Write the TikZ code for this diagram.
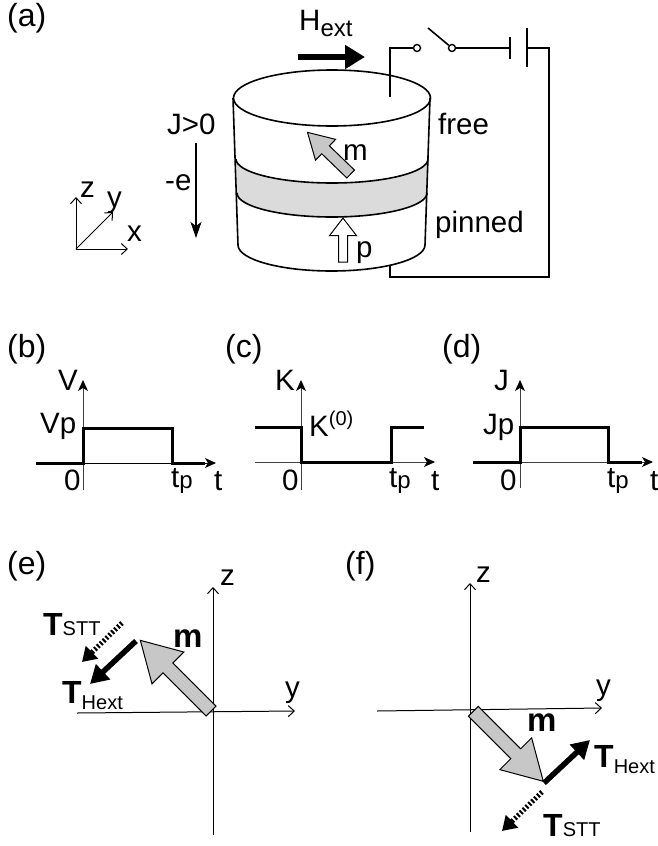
\documentclass[tikz,border=0pt]{standalone}
\usepackage{fontspec}
\setmainfont{Liberation Sans}
\usetikzlibrary{arrows.meta,shapes.arrows}

\newcommand{\subtxt}[1]{{\fontsize{20}{20}\selectfont #1}}
\newcommand{\subHext}{\raisebox{-6pt}{\subtxt{Hext}}}
\newcommand{\boldT}{{\fontsize{32}{32}\selectfont\bfseries T}}

\tikzset{
  lbl/.style={anchor=base west,inner sep=0pt,font=\fontsize{29.5}{31}\selectfont},
  panel/.style={lbl,font=\fontsize{32}{34}\selectfont},
  wire/.style={line width=1.6pt},
  axis/.style={line width=1pt,-{Straight Barb[length=6pt,width=11pt]}},
  plotaxis/.style={line width=1pt,black!75,-{Stealth[length=11pt,width=10pt,inset=3pt,color=black]}},
  pulse/.style={line width=3pt,miter limit=2},
  fatarrow/.style={single arrow,draw=black,line width=1pt,inner sep=0pt,text depth=0pt,
    single arrow head indent=0pt},
  torque/.style={line width=5.5pt,-{Triangle[length=18pt,width=20pt]}},
  sttorque/.style={line width=5pt,dash pattern=on 2pt off 2pt,-{Triangle[length=14pt,width=17pt]}}
}

\begin{document}
\begin{tikzpicture}[x=1pt,y=-1pt]
  \useasboundingbox (0,0) rectangle (657,846);

  % (a) stack
  \node (la) [panel] at (7,26) {(a)};
  \fill [black!14] (236,159) arc [start angle=180,end angle=0,x radius=96,y radius=24]
    -- (427,193) arc [start angle=0,end angle=180,x radius=95,y radius=24] -- cycle;
  \draw [wire] (332,98) ellipse [x radius=98.5,y radius=28];
  \draw [wire] (233,98) -- (238,245) arc [start angle=180,end angle=0,x radius=93.5,y radius=26] -- (430,98);
  \draw [wire] (236,159) arc [start angle=180,end angle=0,x radius=96,y radius=24];
  \draw [wire] (237,193) arc [start angle=180,end angle=0,x radius=95,y radius=24];
  \node (marrow) [fatarrow,fill=black!22,rotate=136,minimum height=60pt,text height=10pt,
    single arrow head extend=9pt,single arrow tip angle=60] at (332.5,156.5) {};
  \node (parrow) [fatarrow,fill=white,rotate=90,minimum height=44pt,text height=8pt,
    single arrow head extend=9pt,single arrow tip angle=75] at (343,243) {};

  \node (hext) [lbl] at (299,30) {H\raisebox{-6pt}{\fontsize{24}{24}\selectfont ext}};
  \coordinate (hs) at (298,57);
  \coordinate (he) at (365,57);
  \draw [line width=6pt,-{Triangle[length=20pt,width=23pt]}] (hs) -- (he);

  % circuit
  \coordinate (wtop) at (390,97);
  \coordinate (wbot) at (390,266);
  \coordinate (corner) at (549,277);
  \coordinate (blade) at (428,28);
  \node (swa) [circle,draw,line width=1.4pt,inner sep=0pt,minimum size=7pt] at (417,48) {};
  \node (swb) [circle,draw,line width=1.4pt,inner sep=0pt,minimum size=7pt] at (452,48) {};
  \coordinate (batl) at (510,48);
  \coordinate (batr) at (527,48);
  \draw [wire] (wtop) |- (swa);
  \draw [wire] (blade) -- (swb);
  \draw [wire] (swb) -- (batl);
  \draw [wire] (510,37) -- (510,59);
  \draw [wire] (527,28) -- (527,67);
  \draw [wire] (batr) -- (549,48) -- (corner) -| (wbot);

  \node (free) [lbl] at (438,134) {free};
  \node (pinned) [lbl] at (435,232) {pinned};
  \node (mlbl) [lbl] at (343,160) {m};
  \node (plbl) [lbl] at (356,257) {p};

  \node (jpos) [lbl] at (167,134) {J>0};
  \node (ecur) [lbl] at (165,190) {-e};
  \coordinate (js) at (196,143);
  \coordinate (je) at (196,238);
  \draw [line width=1.2pt,-{Stealth[length=16pt,width=11pt,inset=4pt]}] (js) -- (je);

  % small axes
  \coordinate (org) at (76,249);
  \coordinate (xa) at (128,249);
  \coordinate (ya) at (113,212);
  \coordinate (za) at (76,197);
  \draw [axis] (org) -- (xa);
  \draw [axis] (org) -- (ya);
  \draw [axis] (org) -- (za);
  \node (xl) [lbl] at (127,241) {x};
  \node (yl) [lbl] at (107,207) {y};
  \node (zl) [lbl] at (80,197) {z};

  % (b)
  \node (lb) [panel] at (7,357) {(b)};
  \coordinate (bv0) at (83,490);
  \coordinate (bv1) at (83,380);
  \coordinate (bh0) at (83,463);
  \coordinate (bh1) at (216,463);
  \draw [plotaxis] (bv0) -- (bv1);
  \draw [plotaxis,black] (bh0) -- (bh1);
  \draw [pulse] (36,463) -- (83,463) -- (83,428) -- (172,428) -- (172,463) -- (205,463);
  \node (bV) [lbl] at (58,390) {V};
  \node (bVp) [lbl] at (40,433) {Vp};
  \node (bz) [lbl] at (64,490) {0};
  \node (btp) [lbl] at (171,487) {t\raisebox{-1pt}{\fontsize{24}{24}\selectfont p}};
  \node (bt) [lbl] at (214,490) {t};

  % (c)
  \node (lc) [panel] at (225,357) {(c)};
  \coordinate (cv0) at (301,490);
  \coordinate (cv1) at (301,380);
  \coordinate (ch0) at (255,462);
  \coordinate (ch1) at (435,462);
  \draw [plotaxis] (cv0) -- (cv1);
  \draw [plotaxis] (ch0) -- (ch1);
  \draw [pulse] (255,427) -- (301,427) -- (301,462) -- (391,462) -- (391,427) -- (424,427);
  \node (cK) [lbl] at (275,390) {K};
  \node (cK0) [lbl] at (309,436) {K\raisebox{11pt}{\subtxt{(0)}}};
  \node (cz) [lbl] at (282,490) {0};
  \node (ctp) [lbl] at (389,487) {t\raisebox{-1pt}{\fontsize{24}{24}\selectfont p}};
  \node (ct) [lbl] at (431,490) {t};

  % (d)
  \node (ld) [panel] at (442,357) {(d)};
  \coordinate (dv0) at (520,488);
  \coordinate (dv1) at (520,380);
  \coordinate (dh0) at (520,462);
  \coordinate (dh1) at (653,462);
  \draw [plotaxis] (dv0) -- (dv1);
  \draw [plotaxis] (dh0) -- (dh1);
  \draw [pulse] (473,462) -- (520,462) -- (520,427) -- (608,427) -- (608,462) -- (642,462);
  \node (dJ) [lbl] at (494,390) {J};
  \node (dJp) [lbl] at (483,434) {Jp};
  \node (dz) [lbl] at (500,490) {0};
  \node (dtp) [lbl] at (607,487) {t\raisebox{-1pt}{\fontsize{24}{24}\selectfont p}};
  \node (dt) [lbl] at (650,490) {t};

  % (e)
  \node (le) [panel] at (7,574) {(e)};
  \coordinate (ezb) at (213,835);
  \coordinate (ezt) at (213,587);
  \coordinate (eyl) at (77,713);
  \coordinate (eyr) at (295,711);
  \draw [axis] (ezb) -- (ezt);
  \draw [axis] (eyl) -- (eyr);
  \node (em) [fatarrow,fill=black!22,rotate=135,minimum height=100pt,text height=13pt,
    single arrow head extend=15.5pt,single arrow tip angle=60] at (180,680) {};
  \coordinate (ehs) at (136,641);
  \coordinate (ehe) at (90,684);
  \coordinate (ess) at (122,623);
  \coordinate (ese) at (82,662);
  \draw [torque] (ehs) -- (ehe);
  \draw [sttorque] (ess) -- (ese);
  \node (ezl) [lbl] at (220,585) {z};
  \node (eyl2) [lbl] at (285,697) {y};
  \node (eml) [lbl,font=\fontsize{33}{33}\selectfont\bfseries] at (173,647) {m};
  \node (est) [lbl] at (43,635) {\boldT\subtxt{STT}};
  \node (eht) [lbl] at (62,703) {\boldT\subHext};

  % (f)
  \node (lf) [panel] at (345,574) {(f)};
  \coordinate (fzb) at (470,832);
  \coordinate (fzt) at (470,583);
  \coordinate (fyl) at (377,711);
  \coordinate (fyr) at (602,708);
  \draw [axis] (fzb) -- (fzt);
  \draw [axis] (fyl) -- (fyr);
  \node (fm) [fatarrow,fill=black!22,rotate=-45,minimum height=99pt,text height=13pt,
    single arrow head extend=15.5pt,single arrow tip angle=60] at (504,742) {};
  \coordinate (fhs) at (544,783);
  \coordinate (fhe) at (590,740);
  \coordinate (fss) at (542,792);
  \coordinate (fse) at (502,831);
  \draw [torque] (fhs) -- (fhe);
  \draw [sttorque] (fss) -- (fse);
  \node (fzl) [lbl] at (476,582) {z};
  \node (fyl2) [lbl] at (596,695) {y};
  \node (fml) [lbl,font=\fontsize{33}{33}\selectfont\bfseries] at (527,731) {m};
  \node (fht) [lbl] at (594,767) {\boldT\subHext};
  \node (fst) [lbl] at (543,836) {\boldT\subtxt{STT}};
\end{tikzpicture}
\end{document}
